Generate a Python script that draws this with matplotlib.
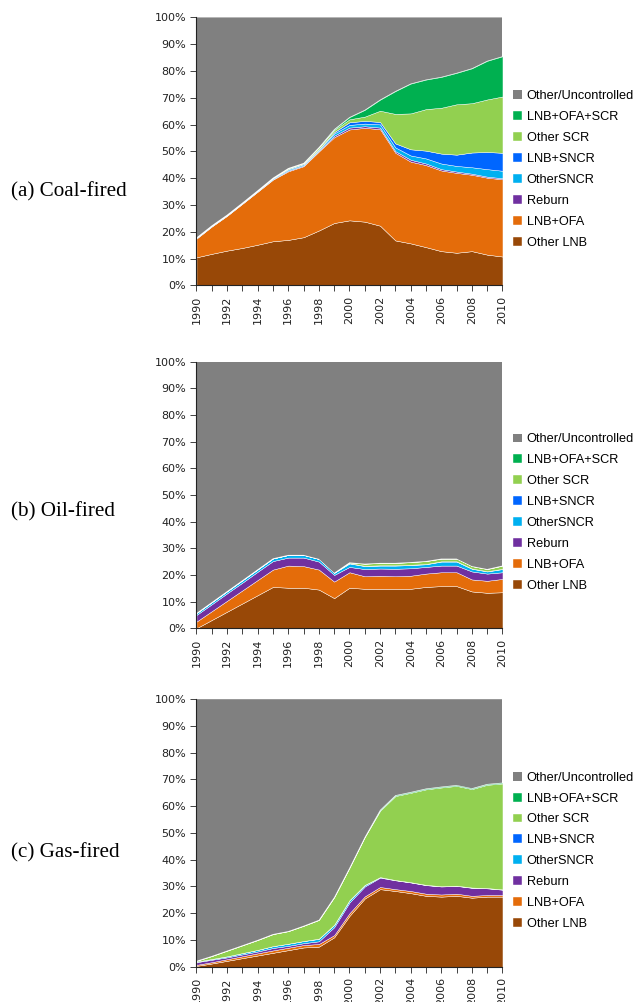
import matplotlib
matplotlib.use("Agg")
import matplotlib.pyplot as plt
from matplotlib.ticker import PercentFormatter, MultipleLocator

years = list(range(1990, 2011))

labels = ['Other LNB', 'LNB+OFA', 'Reburn', 'OtherSNCR', 'LNB+SNCR',
          'Other SCR', 'LNB+OFA+SCR', 'Other/Uncontrolled']
colors = ['#984807', '#E46C0A', '#7030A0', '#00B0F0', '#0066FF',
          '#92D050', '#00B050', '#808080']

# coal-fired capacity share by NOx control (%)
coal_other_lnb = [10.5, 11.8, 13.0, 14.0, 15.2, 16.5, 17.0, 18.0, 20.5, 23.3, 24.3,
                  23.8, 22.3, 16.8, 15.7, 14.3, 12.8, 12.2, 12.8, 11.5, 10.8]
coal_lnb_ofa = [7.0, 10.2, 13.0, 16.5, 19.8, 23.0, 25.6, 26.5, 29.5, 32.0, 33.9,
                35.0, 36.0, 32.7, 30.5, 30.6, 30.1, 29.8, 28.5, 28.7, 28.8]
coal_reburn = [0.1, 0.1, 0.1, 0.1, 0.1, 0.2, 0.3, 0.3, 0.3, 0.6, 0.7,
               0.6, 0.6, 0.6, 0.7, 0.6, 0.5, 0.5, 0.4, 0.4, 0.4]
coal_other_sncr = [0.2, 0.2, 0.2, 0.2, 0.2, 0.3, 0.4, 0.4, 0.4, 0.8, 1.0,
                   1.0, 1.2, 1.4, 1.6, 1.9, 2.1, 2.1, 2.4, 2.8, 2.8]
coal_lnb_sncr = [0.1, 0.1, 0.1, 0.1, 0.1, 0.1, 0.2, 0.2, 0.2, 0.5, 1.0,
                 1.0, 0.9, 1.5, 2.3, 2.9, 3.7, 4.2, 5.5, 6.4, 6.7]
coal_other_scr = [0.0, 0.0, 0.0, 0.0, 0.1, 0.1, 0.3, 0.3, 0.6, 0.8, 1.1,
                  1.6, 4.2, 11.0, 13.4, 15.5, 17.1, 18.8, 18.4, 19.6, 21.0]
coal_lnb_ofa_scr = [0.0, 0.0, 0.0, 0.0, 0.0, 0.0, 0.0, 0.0, 0.1, 0.3, 0.8,
                    2.5, 4.1, 8.5, 11.1, 11.0, 11.5, 11.7, 13.0, 14.4, 15.0]
coal_uncontrolled = [82.1, 77.6, 73.6, 69.1, 64.5, 59.8, 56.2, 54.3, 48.4, 41.7, 37.2,
                     34.5, 30.7, 27.5, 24.7, 23.2, 22.2, 20.7, 19.0, 16.2, 14.5]

# oil-fired
oil_other_lnb = [0.0, 3.1, 6.2, 9.3, 12.4, 15.5, 15.2, 15.2, 14.5, 11.3, 15.2,
                 14.8, 14.8, 14.8, 14.8, 15.5, 15.8, 15.8, 13.8, 13.3, 13.5]
oil_lnb_ofa = [2.5, 3.3, 4.1, 4.9, 5.7, 6.5, 8.3, 8.1, 7.5, 6.2, 5.8,
               4.7, 4.9, 4.7, 4.9, 5.0, 5.2, 5.2, 4.5, 4.5, 5.0]
oil_reburn = [2.5, 2.6, 2.8, 2.9, 3.1, 3.2, 3.0, 3.2, 3.0, 2.5, 2.0,
              2.7, 2.7, 2.8, 2.8, 2.5, 2.5, 2.5, 3.0, 2.7, 2.5]
oil_other_sncr = [0.7, 0.8, 0.8, 0.9, 0.9, 1.0, 1.0, 1.0, 1.0, 0.8, 1.3,
                  1.1, 1.1, 1.2, 1.2, 1.0, 1.5, 1.5, 1.0, 0.8, 1.2]
oil_lnb_sncr = [0.0, 0.0, 0.0, 0.0, 0.0, 0.0, 0.0, 0.0, 0.0, 0.0, 0.1,
                0.1, 0.1, 0.1, 0.1, 0.1, 0.1, 0.1, 0.1, 0.1, 0.1]
oil_other_scr = [0.0, 0.0, 0.0, 0.0, 0.0, 0.0, 0.0, 0.0, 0.0, 0.0, 0.3,
                 0.8, 0.9, 0.9, 1.0, 1.1, 1.0, 1.0, 0.9, 0.8, 1.2]
oil_lnb_ofa_scr = [0.0] * 21
oil_uncontrolled = [94.3, 90.2, 86.1, 82.0, 77.9, 73.8, 72.5, 72.5, 74.0, 79.2, 75.3,
                    75.8, 75.5, 75.5, 75.2, 74.8, 73.9, 73.9, 76.7, 77.8, 76.5]

# gas-fired
gas_other_lnb = [0.3, 1.2, 2.2, 3.2, 4.2, 5.2, 6.2, 7.2, 7.5, 11.0, 19.0,
                 25.5, 29.0, 28.3, 27.5, 26.5, 26.2, 26.5, 25.8, 26.2, 26.2]
gas_lnb_ofa = [0.4, 0.5, 0.6, 0.7, 0.8, 0.9, 0.9, 0.9, 1.0, 0.8, 1.0,
               0.8, 0.8, 0.7, 0.8, 0.8, 0.8, 0.8, 0.7, 0.6, 0.6]
gas_reburn = [1.0, 0.9, 0.7, 0.7, 0.7, 0.9, 0.7, 0.7, 1.0, 3.0, 4.0,
              3.7, 3.5, 3.3, 3.2, 3.2, 3.0, 2.9, 3.0, 2.5, 2.0]
gas_other_sncr = [0.2, 0.3, 0.4, 0.5, 0.6, 0.7, 0.8, 0.8, 0.9, 0.8, 0.8,
                  0.5, 0.2, 0.1, 0.1, 0.1, 0.1, 0.1, 0.1, 0.1, 0.1]
gas_lnb_sncr = [0.0, 0.0, 0.0, 0.0, 0.0, 0.0, 0.0, 0.0, 0.1, 0.1, 0.1,
                0.1, 0.0, 0.0, 0.0, 0.0, 0.0, 0.0, 0.0, 0.0, 0.0]
gas_other_scr = [0.3, 1.1, 2.1, 2.9, 3.7, 4.5, 4.7, 5.7, 7.0, 10.3, 12.1,
                 17.9, 24.8, 31.4, 33.4, 35.7, 36.9, 37.3, 36.8, 38.6, 39.6]
gas_lnb_ofa_scr = [0.0, 0.0, 0.0, 0.0, 0.0, 0.0, 0.0, 0.0, 0.0, 0.0, 0.0,
                   0.0, 0.3, 0.3, 0.3, 0.3, 0.3, 0.3, 0.3, 0.3, 0.3]
gas_uncontrolled = [97.8, 96.0, 94.0, 92.0, 90.0, 87.8, 86.7, 84.7, 82.5, 74.0, 63.0,
                    51.5, 41.4, 35.9, 34.7, 33.4, 32.7, 32.1, 33.3, 31.7, 31.2]

panels = [
    ('(a) Coal-fired', [coal_other_lnb, coal_lnb_ofa, coal_reburn, coal_other_sncr,
                        coal_lnb_sncr, coal_other_scr, coal_lnb_ofa_scr, coal_uncontrolled]),
    ('(b) Oil-fired', [oil_other_lnb, oil_lnb_ofa, oil_reburn, oil_other_sncr,
                       oil_lnb_sncr, oil_other_scr, oil_lnb_ofa_scr, oil_uncontrolled]),
    ('(c) Gas-fired', [gas_other_lnb, gas_lnb_ofa, gas_reburn, gas_other_sncr,
                       gas_lnb_sncr, gas_other_scr, gas_lnb_ofa_scr, gas_uncontrolled]),
]

fig = plt.figure(figsize=(6.35, 10.02), dpi=100)

# axes boxes in figure fraction: left, bottom, width, height
boxes = [
    [0.3094, 0.7151, 0.4819, 0.2675],
    [0.3094, 0.3730, 0.4819, 0.2661],
    [0.3094, 0.0352, 0.4819, 0.2670],
]
# vertical position of each panel caption (figure fraction)
caption_y = [0.8087, 0.489, 0.1487]

for (title, series), box, ty in zip(panels, boxes, caption_y):
    ax = fig.add_axes(box)
    polys = ax.stackplot(years, series, colors=colors, labels=labels,
                         edgecolor='white', linewidth=0.3)
    polys[-1].set_edgecolor('none')

    ax.set_xlim(1990, 2010)
    ax.set_ylim(0, 100)
    ax.yaxis.set_major_locator(MultipleLocator(10))
    ax.yaxis.set_major_formatter(PercentFormatter(decimals=0))
    ax.set_xticks(range(1990, 2011, 2))
    ax.set_xticks(years, minor=True)
    ax.tick_params(axis='x', which='both', direction='out', length=4, width=0.6,
                   labelsize=8, rotation=90, colors='#222222')
    ax.tick_params(axis='y', direction='out', length=4, width=0.6,
                   labelsize=8, colors='#222222')
    for s in ['top', 'right']:
        ax.spines[s].set_visible(False)
    for s in ['left', 'bottom']:
        ax.spines[s].set_linewidth(0.8)
        ax.spines[s].set_color('#222222')

    handles, labs = ax.get_legend_handles_labels()
    ax.legend(handles[::-1], labs[::-1], loc='center left',
              bbox_to_anchor=(1.035, 0.433), frameon=False,
              prop={'family': 'Liberation Sans', 'size': 9.2},
              handlelength=0.7, handleheight=0.7, handletextpad=0.35,
              labelspacing=0.7, borderaxespad=0, borderpad=0)

    fig.text(0.017, ty, title, family='Liberation Serif',
             fontsize=15.2, ha='left', va='center')

fig.savefig('out.png', dpi=100)
